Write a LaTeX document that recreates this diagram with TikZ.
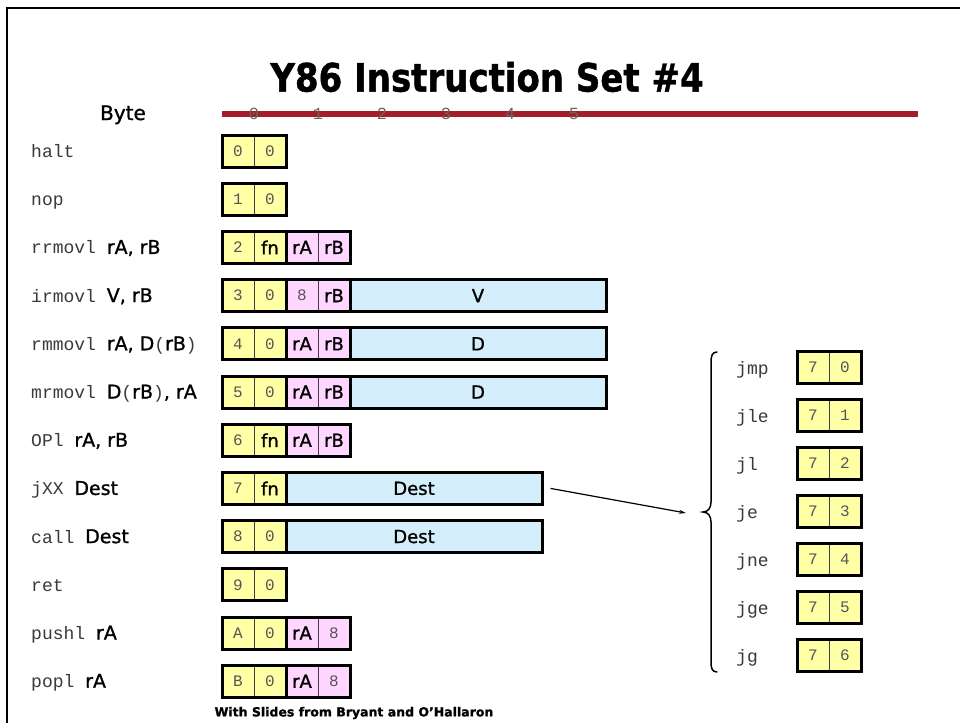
\documentclass[tikz,border=0pt]{standalone}
\usepackage{fontspec}
\setmainfont{DejaVu Sans}
\newfontfamily\cfont[FakeBold=1.2]{DejaVu Sans}
\newfontfamily\mfont{Liberation Mono}
\usetikzlibrary{arrows.meta}
\definecolor{nibY}{HTML}{FFFFA6}
\definecolor{nibP}{HTML}{FFD6FF}
\definecolor{nibB}{HTML}{D4EEFC}
\definecolor{barred}{HTML}{A51C2B}
\definecolor{mgray}{HTML}{3A3A3A}
\definecolor{dgray}{HTML}{555555}
\newcommand\mn[1]{{\mfont\color{mgray}#1}}
\newcommand\cf[1]{{\cfont\fontsize{19}{20}\selectfont #1}}
\newcommand\dg[1]{{\mfont\fontsize{16}{18}\selectfont\color{dgray}#1}}
\newcommand\ibyte[6]{%
  \node[nib,fill=#4] (#1a) at (#2+16,#3) {#5};
  \node[nib,fill=#4] (#1b) at (#2+48,#3) {#6};
  \draw[bytebox] (#2,#3-16) rectangle (#2+64,#3+16);
}
\tikzset{
  lab/.style={anchor=base west, inner sep=0pt, font=\fontsize{18}{20}\selectfont},
  nib/.style={draw=black!75, line width=0.7pt, minimum width=32pt, minimum height=32pt,
              inner sep=0pt, font=\cfont\fontsize{18}{20}\selectfont},
  bytebox/.style={draw=black, line width=3pt},
  wordbox/.style={draw=black, line width=3pt, fill=nibB, minimum height=32pt,
                  minimum width=256pt, inner sep=0pt, font=\cfont\fontsize{18}{20}\selectfont},
}
\begin{document}
\begin{tikzpicture}[x=1pt,y=-1pt]
\useasboundingbox (0,0) rectangle (960,723);
\fill[white] (0,0) rectangle (960,723);
% slide frame
\draw[line width=2.5pt] (7,723) -- (7,8) -- (960,8);
% title
\node[font=\cfont\bfseries\fontsize{34}{40}\selectfont, yscale=1.15] (title) at (487,77) {Y86 Instruction Set \#4};
% byte ruler
\node[anchor=base, font=\cfont\fontsize{20}{22}\selectfont] (byte) at (123,120) {Byte};
\draw[barred, line width=6pt] (222,114) -- (918,114);
\foreach \k in {0,...,5}
  \node[font=\mfont\fontsize{17}{18}\selectfont, text=black!60] (h\k) at (254+64*\k,114) {\k};
% left labels
\node[lab] (l0)  at (31,157.5) {\mn{halt}};
\node[lab] (l1)  at (31,205.7) {\mn{nop}};
\node[lab] (l2)  at (31,253.9) {\mn{rrmovl }\cf{rA, rB}};
\node[lab] (l3)  at (31,302.1) {\mn{irmovl }\cf{V, rB}};
\node[lab] (l4)  at (31,350.3) {\mn{rmmovl }\cf{rA, D}\mn{(}\cf{rB}\mn{)}};
\node[lab] (l5)  at (31,398.5) {\mn{mrmovl }\cf{D}\mn{(}\cf{rB}\mn{)}\cf{, rA}};
\node[lab] (l6)  at (31,446.7) {\mn{OPl }\cf{rA, rB}};
\node[lab] (l7)  at (31,494.9) {\mn{jXX }\cf{Dest}};
\node[lab] (l8)  at (31,543.1) {\mn{call }\cf{Dest}};
\node[lab] (l9)  at (31,591.3) {\mn{ret}};
\node[lab] (l10) at (31,639.5) {\mn{pushl }\cf{rA}};
\node[lab] (l11) at (31,687.7) {\mn{popl }\cf{rA}};
% encodings
\ibyte{halt}{222}{151.0}{nibY}{\dg0}{\dg0}
\ibyte{nop}{222}{199.2}{nibY}{\dg1}{\dg0}
\ibyte{rra}{222}{247.4}{nibY}{\dg2}{fn}
\ibyte{rrb}{286}{247.4}{nibP}{rA}{rB}
\ibyte{ira}{222}{295.6}{nibY}{\dg3}{\dg0}
\ibyte{irb}{286}{295.6}{nibP}{\dg8}{rB}
\node[wordbox] (irv) at (478,295.6) {V};
\ibyte{rma}{222}{343.8}{nibY}{\dg4}{\dg0}
\ibyte{rmb}{286}{343.8}{nibP}{rA}{rB}
\node[wordbox] (rmd) at (478,343.8) {D};
\ibyte{mra}{222}{392.0}{nibY}{\dg5}{\dg0}
\ibyte{mrb}{286}{392.0}{nibP}{rA}{rB}
\node[wordbox] (mrd) at (478,392.0) {D};
\ibyte{opa}{222}{440.2}{nibY}{\dg6}{fn}
\ibyte{opb}{286}{440.2}{nibP}{rA}{rB}
\ibyte{jxa}{222}{488.4}{nibY}{\dg7}{fn}
\node[wordbox] (dj) at (414,488.4) {Dest};
\ibyte{cla}{222}{536.6}{nibY}{\dg8}{\dg0}
\node[wordbox] (dc) at (414,536.6) {Dest};
\ibyte{rta}{222}{584.8}{nibY}{\dg9}{\dg0}
\ibyte{psa}{222}{633.0}{nibY}{\dg{A}}{\dg0}
\ibyte{psb}{286}{633.0}{nibP}{rA}{\dg8}
\ibyte{ppa}{222}{681.2}{nibY}{\dg{B}}{\dg0}
\ibyte{ppb}{286}{681.2}{nibP}{rA}{\dg8}
% jump variants
\foreach \nm [count=\i from 0] in {jmp,jle,jl,je,jne,jge,jg}{
  \node[lab] (jl\i) at (736,367.5+48*\i+6.5) {\mn{\nm}};
  \ibyte{jb\i}{797}{367.5+48*\i}{nibY}{\dg7}{\dg{\i}}
}
% brace
\draw[line width=1.5pt, line cap=round] (717,352) .. controls (712,352) and (711,356) .. (711,363)
  -- (711,502) .. controls (711,508) and (708,512) .. (703,512)
  .. controls (708,512) and (711,516) .. (711,522)
  -- (711,662) .. controls (711,668) and (712,672) .. (717,672);
\coordinate (bt) at (686,513);
\draw[line width=1.2pt, -{Stealth[length=7pt,width=4pt]}] ([xshift=7pt]dj.east) -- (bt);
% footer
\node[font=\cfont\bfseries\fontsize{12.5}{14}\selectfont] (foot) at (354,713) {With Slides from Bryant and O’Hallaron};
\end{tikzpicture}
\end{document}
